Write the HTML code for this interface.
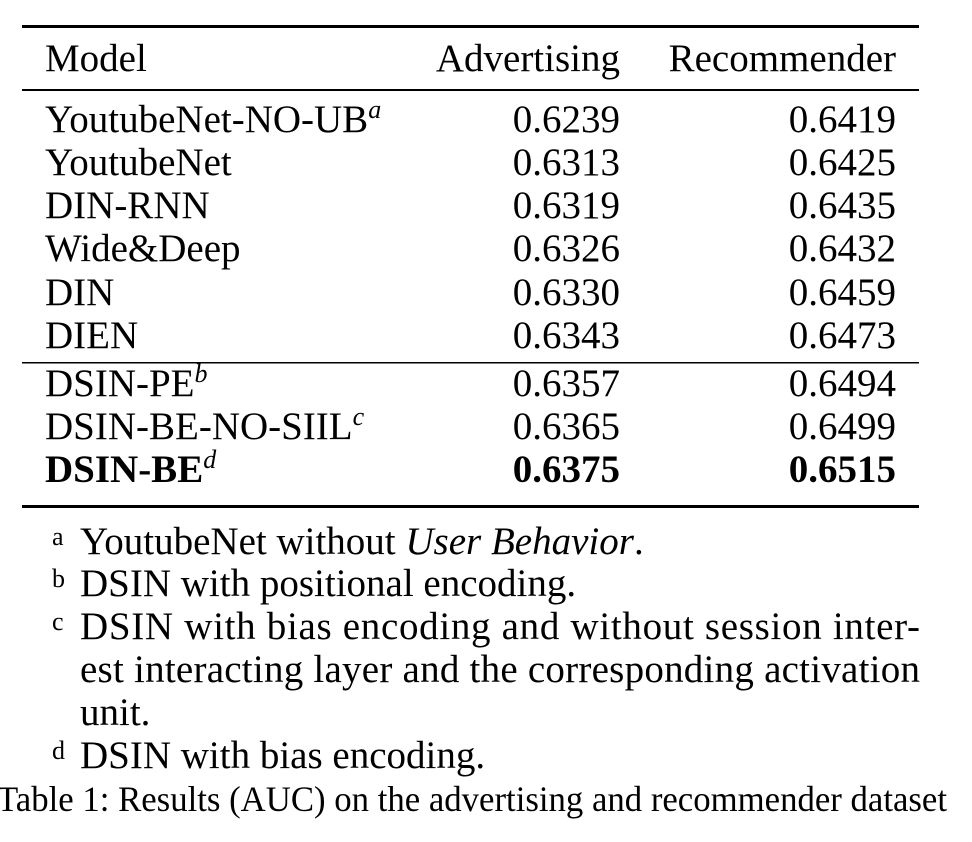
<!DOCTYPE html>
<html><head><meta charset="utf-8"><style>
html,body{margin:0;padding:0;background:#fff;}
svg{display:block;font-family:"Liberation Serif",serif;}
text{fill:#000;}
</style></head><body>
<svg width="972" height="842" viewBox="0 0 972 842">
<rect x="22" y="25" width="897" height="3" fill="#000"/>
<rect x="22" y="89" width="897" height="2" fill="#000"/>
<rect x="22" y="362" width="897" height="1.5" fill="#000"/>
<rect x="22" y="505" width="897" height="3" fill="#000"/>
<g font-size="39">
<text x="45" y="71">Model</text>
<text x="620" y="71" text-anchor="end">Advertising</text>
<text x="896" y="71" text-anchor="end">Recommender</text>
<g id="rows"></g>
</g>
<g font-size="39">
<text x="52" y="545" font-size="26">a</text>
<text x="80" y="554">YoutubeNet without <tspan font-style="italic">User Behavior</tspan>.</text>
<text x="52" y="587" font-size="26">b</text>
<text x="80" y="596">DSIN with positional encoding.</text>
<text x="52" y="630" font-size="26">c</text>
<text x="80" y="639" textLength="840" lengthAdjust="spacing">DSIN with bias encoding and without session inter-</text>
<text x="80" y="682" textLength="840" lengthAdjust="spacing">est interacting layer and the corresponding activation</text>
<text x="80" y="725">unit.</text>
<text x="52" y="759" font-size="26">d</text>
<text x="80" y="768">DSIN with bias encoding.</text>
<text x="-3" y="811" font-size="36" textLength="950" lengthAdjust="spacingAndGlyphs">Table 1: Results (AUC) on the advertising and recommender dataset</text>
</g>
</svg>
<script>
const models=["YoutubeNet-NO-UB","YoutubeNet","DIN-RNN","Wide&Deep","DIN","DIEN","DSIN-PE","DSIN-BE-NO-SIIL","DSIN-BE"];
const sups=["a","","","","","","b","c","d"];
const advertising=["0.6239","0.6313","0.6319","0.6326","0.6330","0.6343","0.6357","0.6365","0.6375"];
const recommender=["0.6419","0.6425","0.6435","0.6432","0.6459","0.6473","0.6494","0.6499","0.6515"];
const baselines=[132,175,218,261,305,348,396,439,482];
const NS="http://www.w3.org/2000/svg";
const g=document.getElementById('rows');
models.forEach((m,i)=>{
  const bold=i===models.length-1;
  const t=document.createElementNS(NS,'text');
  t.setAttribute('x',45);t.setAttribute('y',baselines[i]);
  if(bold)t.setAttribute('font-weight','bold');
  t.textContent=m;
  if(sups[i]){const s=document.createElementNS(NS,'tspan');s.setAttribute('font-style','italic');s.setAttribute('font-size','26');s.setAttribute('font-weight','normal');s.setAttribute('dy','-14');s.textContent=sups[i];t.appendChild(s);}
  
  
  g.appendChild(t);
  [[620,advertising[i],'advertising-auc'],[896,recommender[i],'recommender-auc']].forEach(([x,v,n])=>{
    const c=document.createElementNS(NS,'text');
    c.setAttribute('x',x);c.setAttribute('y',baselines[i]);c.setAttribute('text-anchor','end');
    if(bold)c.setAttribute('font-weight','bold');
    c.textContent=v;
    
    
    g.appendChild(c);
  });
});
</script>
</body></html>
